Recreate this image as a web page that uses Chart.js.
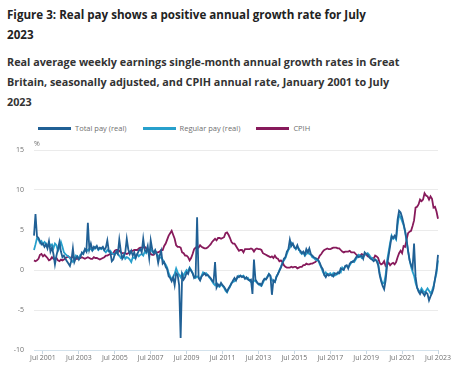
<!DOCTYPE html>
<html>

<head>
  <meta charset="utf-8">
  <title>Figure 3</title>
  <style>
    body { margin: 0; width: 465px; height: 375px; overflow: hidden; background: #fff; font-family: "Open Sans", sans-serif; position: relative; }
    h1 { position: absolute; left: 7px; top: 5px; width: 385px; margin: 0; font-size: 11.6px; line-height: 19.5px; font-weight: 700; color: #222; }
    h2 { position: absolute; left: 7px; top: 52px; width: 396px; margin: 0; font-size: 10.8px; line-height: 20px; font-weight: 700; color: #333; }
    #legenda { position: absolute; left: 38px; top: 123px; display: flex; font-size: 7.5px; color: #707070; }
    #legenda .item { display: flex; align-items: center; margin-right: 16px; }
    #legenda .linha { width: 33px; height: 3px; margin-right: 4px; }
    #grafico { position: absolute; left: 0; top: 130px; width: 465px; height: 245px; }
  </style>
</head>

<body>
  <h1>Figure 3: Real pay shows a positive annual growth rate for July 2023</h1>
  <h2>Real average weekly earnings single-month annual growth rates in Great Britain, seasonally adjusted, and CPIH annual rate, January 2001 to July 2023</h2>
  <div id="legenda"></div>
  <div id="grafico"><canvas id="canvasGrafico"></canvas></div>

  <script src="https://cdn.jsdelivr.net/npm/chart.js"></script>
  <script>
    // valores mensais, jan 2001 a jul 2023 (uma linha por ano)
    const totalPay = [
      4.3, 7.0, 4.2, 4.0, 3.6, 3.2, 3.3, 2.9, 3.2, 2.7, 3.6, 2.3,
      2.8, 2.0, 0.7, 1.8, 2.6, 3.5, 2.3, 1.6, 1.8, 1.4, 1.1, 0.8,
      0.5, 1.2, 2.7, 1.0, 1.5, 1.7, 1.3, 1.6, 2.2, 2.0, 2.6, 2.3,
      5.9, 2.6, 3.3, 2.5, 2.9, 2.7, 3.0, 2.6, 2.8, 2.7, 2.9, 2.5,
      2.8, 3.7, 2.4, 2.2, 1.1, 1.3, 2.0, 2.3, 2.0, 3.8, 2.4, 1.4,
      1.7, 2.2, 3.9, 2.6, 2.0, 2.4, 1.8, 2.2, 1.5, 2.0, 2.4, 2.6,
      2.2, 3.9, 2.5, 2.3, 3.0, 1.5, 3.7, 2.6, 2.1, 2.5, 2.0, 0.9,
      1.8, 2.4, 0.8, 1.0, 0.4, 0.1, -0.8, -1.0, -1.4, -0.9, -1.9, -0.4,
      -0.6, -1.9, -8.5, -0.6, -1.2, -0.9, -0.3, -0.5, 0.2, -0.1, -0.4, -1.0,
      -0.8, 6.6, -1.0, -1.3, -0.8, -0.6, -0.4, -0.7, -0.6, -0.8, -1.0, -1.3,
      -1.5, 1.0, -2.2, -1.8, -2.0, -1.6, -1.9, -2.1, -2.4, -2.7, -2.3, -2.0,
      -1.7, -1.3, -1.0, -1.3, -0.8, -0.9, -0.7, -0.9, -0.8, -1.1, -0.9, -1.2,
      -1.3, -1.2, -3.0, 1.3, -1.2, -1.5, -1.8, -1.7, -1.9, -1.4, -1.1, -1.2,
      -0.9, -0.5, -0.7, -3.1, -1.3, -1.5, -0.9, -0.5, -0.1, 0.3, 0.8, 1.4,
      1.6, 2.3, 2.6, 3.8, 3.0, 3.3, 2.8, 2.7, 3.1, 2.5, 2.4, 2.1,
      2.3, 1.9, 2.6, 2.2, 2.7, 2.0, 1.8, 1.6, 1.5, 1.4, 1.2, 0.9,
      0.4, 0.1, -0.6, -0.9, -0.5, -0.7, -0.6, -0.6, -0.8, -0.4, -0.5, -0.3,
      -0.4, 0.2, 0.1, 0.0, 0.5, 0.6, 0.2, 0.8, 1.0, 1.0, 1.2, 1.5,
      1.8, 1.6, 1.7, 1.8, 1.4, 2.2, 2.0, 1.9, 1.6, 1.4, 1.3, 1.1,
      1.3, 1.1, 0.6, -0.6, -1.4, -2.0, -2.4, -1.3, 0.6, 1.8, 3.0, 4.2,
      4.0, 4.3, 4.0, 6.3, 7.4, 7.2, 6.6, 5.8, 4.9, 3.8, 2.4, 1.2,
      0.6, 0.2, 3.3, -0.8, -2.2, -2.7, -3.0, -2.6, -2.9, -3.2, -2.8, -3.0,
      -3.8, -3.3, -2.9, -2.3, -1.1, 0.0, 1.9
    ];

    const regularPay = [
      2.5, 3.2, 4.0, 3.8, 3.4, 3.6, 3.2, 3.5, 3.3, 2.9, 3.4, 3.0,
      3.2, 2.7, 3.3, 3.1, 2.4, 2.8, 3.5, 2.9, 2.2, 2.0, 1.8, 1.7,
      1.5, 1.2, 1.0, 1.4, 1.8, 1.6, 1.5, 1.9, 2.0, 2.2, 2.5, 2.6,
      2.4, 2.7, 2.6, 2.4, 2.6, 2.9, 2.8, 2.5, 2.7, 2.6, 2.8, 2.4,
      2.2, 2.5, 2.3, 2.4, 2.1, 2.0, 1.9, 2.3, 2.0, 1.8, 1.5, 1.6,
      1.9, 1.4, 1.6, 1.5, 1.3, 1.0, 1.6, 1.5, 1.8, 2.0, 1.7, 1.9,
      2.0, 1.8, 2.3, 2.1, 2.4, 2.2, 2.6, 2.3, 2.1, 2.4, 2.0, 1.8,
      1.5, 1.6, 1.3, 0.9, 0.7, 0.3, -0.4, -0.8, -1.2, -0.9, -0.5, 0.2,
      -0.3, -0.6, -0.9, -0.4, -0.7, -0.3, 0.0, -0.2, 0.3, 0.0, -0.4, -0.8,
      -1.0, -0.8, -0.9, -1.2, -0.7, -0.3, -0.5, -0.4, -0.6, -0.9, -1.1, -1.4,
      -1.7, -1.9, -1.6, -2.0, -2.1, -1.8, -2.0, -2.2, -2.6, -2.8, -2.4, -2.1,
      -1.6, -1.5, -1.4, -1.2, -1.0, -0.7, -0.8, -0.8, -0.7, -1.0, -1.1, -1.0,
      -1.3, -1.5, -1.6, -1.3, -1.4, -1.6, -1.7, -1.9, -2.0, -1.6, -1.2, -1.1,
      -0.8, -0.5, -0.8, -1.3, -1.4, -1.5, -0.8, -0.5, 0.0, 0.4, 0.9, 1.2,
      1.5, 2.0, 2.5, 2.8, 3.4, 3.2, 2.9, 2.6, 2.9, 2.7, 2.2, 2.0,
      2.2, 1.8, 2.0, 2.4, 2.0, 1.9, 1.6, 1.5, 1.3, 1.2, 1.2, 0.7,
      0.3, -0.2, -0.6, -0.3, -0.6, -0.5, -0.4, -0.7, -0.4, -0.7, -0.6, -0.5,
      -0.2, -0.3, 0.3, 0.1, 0.4, 0.5, 0.3, 0.6, 0.9, 1.1, 1.0, 1.3,
      1.6, 1.9, 1.8, 1.5, 1.6, 1.9, 2.0, 2.1, 1.9, 1.6, 1.5, 1.2,
      1.3, 1.2, 0.9, -0.4, -1.2, -1.7, -1.6, -0.6, 1.2, 2.3, 3.4, 4.3,
      3.9, 4.1, 3.8, 5.6, 6.9, 6.6, 6.1, 5.6, 4.8, 3.6, 2.4, 1.3,
      0.4, -0.2, -0.7, -1.6, -2.2, -2.5, -2.7, -2.3, -2.6, -2.8, -2.6, -2.3,
      -2.6, -2.9, -2.6, -2.0, -1.2, -0.4, 1.2
    ];

    const cpih = [
      1.2, 1.1, 1.2, 1.4, 1.9, 2.0, 1.7, 1.9, 1.7, 1.5, 1.2, 1.3,
      1.6, 1.4, 1.4, 1.5, 1.2, 1.1, 1.3, 1.2, 1.3, 1.5, 1.6, 1.7,
      1.5, 1.6, 1.6, 1.5, 1.4, 1.4, 1.5, 1.5, 1.6, 1.5, 1.4, 1.5,
      1.6, 1.5, 1.4, 1.4, 1.6, 1.5, 1.5, 1.4, 1.3, 1.4, 1.5, 1.6,
      1.8, 1.8, 1.9, 2.0, 2.0, 2.1, 2.4, 2.5, 2.5, 2.4, 2.2, 2.1,
      2.1, 2.1, 2.0, 2.1, 2.3, 2.4, 2.4, 2.5, 2.5, 2.5, 2.7, 2.8,
      2.8, 2.8, 2.9, 2.7, 2.5, 2.4, 2.0, 1.9, 1.9, 2.1, 2.2, 2.2,
      2.3, 2.5, 2.5, 3.0, 3.3, 3.8, 4.3, 4.6, 4.9, 4.4, 3.9, 3.1,
      2.9, 2.9, 2.8, 2.2, 2.1, 1.8, 1.8, 1.6, 1.2, 1.5, 2.0, 2.6,
      2.8, 2.7, 2.8, 3.1, 2.9, 2.8, 2.7, 2.7, 2.8, 3.0, 3.2, 3.5,
      3.7, 3.9, 3.7, 4.0, 4.0, 3.9, 4.0, 4.1, 4.6, 4.7, 4.4, 4.0,
      3.5, 3.3, 3.3, 3.0, 2.7, 2.4, 2.5, 2.5, 2.2, 2.6, 2.6, 2.6,
      2.6, 2.7, 2.6, 2.3, 2.6, 2.7, 2.6, 2.6, 2.5, 2.1, 2.0, 1.9,
      1.8, 1.7, 1.6, 1.7, 1.5, 1.8, 1.5, 1.4, 1.1, 1.2, 1.0, 0.6,
      0.4, 0.3, 0.3, 0.3, 0.4, 0.3, 0.4, 0.4, 0.2, 0.3, 0.4, 0.4,
      0.6, 0.6, 0.8, 0.7, 0.7, 0.8, 0.8, 0.9, 1.0, 1.2, 1.4, 1.8,
      2.0, 2.3, 2.5, 2.6, 2.7, 2.6, 2.6, 2.7, 2.8, 2.8, 2.8, 2.7,
      2.7, 2.5, 2.3, 2.2, 2.3, 2.3, 2.3, 2.4, 2.2, 2.2, 2.2, 2.0,
      1.8, 1.8, 1.8, 2.0, 1.9, 1.9, 2.0, 1.7, 1.7, 1.5, 1.5, 1.4,
      1.8, 1.7, 1.5, 0.9, 0.7, 0.8, 1.1, 0.5, 0.7, 0.9, 0.6, 0.8,
      0.9, 0.7, 1.0, 1.6, 2.1, 2.4, 2.1, 3.0, 2.9, 3.8, 4.6, 4.8,
      4.9, 5.5, 6.2, 7.8, 7.9, 8.2, 8.8, 8.6, 8.8, 9.6, 9.3, 9.2,
      8.8, 9.2, 8.9, 7.8, 7.9, 7.3, 6.4
    ];

    const meses = ['Jan', 'Feb', 'Mar', 'Apr', 'May', 'Jun', 'Jul', 'Aug', 'Sep', 'Oct', 'Nov', 'Dec'];
    const tickLabels = ['Jul 2001', 'Jul 2003', 'Jul 2005', 'Jul 2007', 'Jul 2009', 'Jul 2011',
      'Jul 2013', 'Jul 2015', 'Jul 2017', 'Jul 2019', 'Jul 2021', 'Jul 2023'];
    const yTicks = [-10, -5, 0, 5, 10, 15];

    // rótulos mensais para o eixo x
    const labels = [];
    for (let i = 0; i < totalPay.length; i++) {
      labels.push(meses[i % 12] + ' ' + (2001 + Math.floor(i / 12)));
    }

    const series = [
      { nome: 'Total pay (real)', dados: totalPay, cor: '#206095' },
      { nome: 'Regular pay (real)', dados: regularPay, cor: '#27a0cc' },
      { nome: 'CPIH', dados: cpih, cor: '#871a5b' }
    ];

    // legenda em html
    const legenda = document.getElementById('legenda');
    series.forEach((s) => {
      legenda.innerHTML += '<div class="item"><span class="linha" style="background:' + s.cor + '"></span>' + s.nome + '</div>';
    });

    // escreve o "%" acima do eixo y
    const porcento = {
      id: 'porcento',
      afterDraw(chart) {
        const ctx = chart.ctx;
        ctx.save();
        ctx.fillStyle = '#707070';
        ctx.font = '7px "Open Sans"';
        ctx.textBaseline = 'bottom';
        ctx.fillText('%', chart.chartArea.left, chart.chartArea.top - 3);
        ctx.restore();
      }
    };

    new Chart(document.getElementById('canvasGrafico'), {
      type: 'line',
      data: {
        labels: labels,
        datasets: series.map((s) => ({
          label: s.nome,
          data: s.dados,
          borderColor: s.cor,
          backgroundColor: s.cor,
          borderWidth: 1.8,
          pointRadius: 0,
          tension: 0
        }))
      },
      options: {
        responsive: true,
        maintainAspectRatio: false,
        animation: false,
        layout: { padding: { top: 20, right: 27, left: 0, bottom: 0 } },
        plugins: { legend: { display: false }, tooltip: { enabled: false } },
        scales: {
          x: {
            afterFit: (scale) => { scale.height = 25; },
            ticks: {
              autoSkip: false,
              maxRotation: 0,
              padding: 0,
              color: '#707070',
              font: { family: 'Open Sans', size: 7 },
              callback: (v, i) => tickLabels.includes(labels[i]) ? labels[i] : ''
            },
            grid: {
              drawOnChartArea: false,
              tickLength: 4,
              color: (ctx) => tickLabels.includes(labels[ctx.index]) ? '#c8d6e0' : 'rgba(0,0,0,0)'
            },
            border: { display: false }
          },
          y: {
            min: -10,
            max: 15,
            afterFit: (scale) => { scale.width = 34; },
            afterBuildTicks: (scale) => { scale.ticks = yTicks.map((v) => ({ value: v })); },
            ticks: {
              padding: 10,
              color: '#707070',
              font: { family: 'Open Sans', size: 7 }
            },
            grid: {
              drawTicks: false,
              color: (ctx) => ctx.tick.value === -10 ? '#d3e2ec' : '#ebebeb'
            },
            border: { display: false }
          }
        }
      },
      plugins: [porcento]
    });
  </script>
</body>
</html>
